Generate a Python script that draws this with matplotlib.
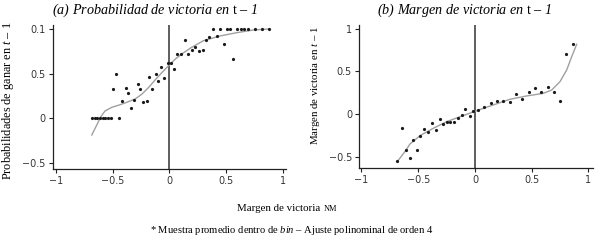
import numpy as np
import matplotlib
matplotlib.use("Agg")
import matplotlib.pyplot as plt

plt.rcParams['mathtext.fontset'] = 'custom'
plt.rcParams['mathtext.rm'] = 'Liberation Serif'
plt.rcParams['mathtext.it'] = 'Liberation Serif:italic'

SERIF = 'Liberation Serif'

# (a) probability of winning at t-1, bin averages
prob_x = [-0.685, -0.661, -0.637, -0.613, -0.589, -0.565, -0.541, -0.517, -0.441,
          -0.494, -0.470, -0.417, -0.385, -0.362, -0.338, -0.309, -0.279, -0.259,
          -0.229, -0.199, -0.177, -0.150, -0.120, -0.102, -0.071, -0.044, -0.009,
          0.015, 0.044, 0.071, 0.101, 0.139, 0.168, 0.198, 0.229, 0.259, 0.295,
          0.324, 0.353, 0.383, 0.418, 0.447, 0.480, 0.507, 0.538, 0.565, 0.600,
          0.630, 0.659, 0.692, 0.756, 0.816, 0.877]
prob_y = [0.0, 0.0, 0.0, 0.0, 0.0, 0.0, 0.0, 0.0, 0.0,
          0.328, 0.499, 0.197, 0.336, 0.283, 0.112, 0.205, 0.384, 0.328,
          0.183, 0.190, 0.466, 0.328, 0.496, 0.421, 0.574, 0.448, 0.616,
          0.623, 0.552, 0.717, 0.723, 0.873, 0.717, 0.761, 0.802, 0.754, 0.761,
          0.877, 0.910, 1.0, 0.925, 1.0, 0.835, 1.0, 1.0, 0.667, 1.0,
          1.0, 1.0, 1.0, 1.0, 1.0, 1.0]

# (a) polynomial fit
prob_fit_x = [-0.685, -0.641, -0.605, -0.568, -0.508, -0.435, -0.362, -0.303, -0.244,
              -0.185, -0.126, -0.067, -0.009, 0.050, 0.109, 0.183, 0.300, 0.447,
              0.595, 0.741, 0.877]
prob_fit_y = [-0.187, -0.075, 0.018, 0.082, 0.123, 0.152, 0.186, 0.216, 0.269,
              0.343, 0.429, 0.511, 0.586, 0.661, 0.720, 0.784, 0.869, 0.922,
              0.959, 0.989, 1.0]

# (b) margin of victory at t-1, bin averages
marg_x = [-0.690, -0.641, -0.608, -0.573, -0.542, -0.508, -0.480, -0.447, -0.411,
          -0.376, -0.346, -0.311, -0.279, -0.248, -0.216, -0.181, -0.150, -0.117,
          -0.085, -0.048, -0.015, 0.026, 0.081, 0.138, 0.194, 0.249, 0.307,
          0.361, 0.416, 0.473, 0.530, 0.586, 0.641, 0.699, 0.752, 0.806, 0.868]
marg_y = [-0.552, -0.168, -0.429, -0.521, -0.300, -0.423, -0.256, -0.179, -0.206,
          -0.109, -0.188, -0.055, -0.120, -0.090, -0.090, -0.098, -0.053, -0.012,
          0.056, -0.024, 0.032, 0.047, 0.079, 0.126, 0.153, 0.155, 0.143,
          0.231, 0.176, 0.262, 0.302, 0.262, 0.317, 0.262, 0.153, 0.702, 0.820]

# (b) polynomial fit
marg_fit_x = [-0.685, -0.611, -0.573, -0.537, -0.485, -0.367, -0.249, -0.132, 0.015,
              0.161, 0.308, 0.455, 0.602, 0.676, 0.749, 0.808, 0.852, 0.896]
marg_fit_y = [-0.561, -0.431, -0.353, -0.314, -0.255, -0.168, -0.090, -0.032, 0.039,
              0.106, 0.173, 0.212, 0.243, 0.282, 0.380, 0.517, 0.673, 0.819]

x_ticks = [-1, -0.5, 0, 0.5, 1]
x_ticklabels = ['\u22121', '\u22120.5', '0', '0.5', '1']
y_ticks = [-0.5, 0, 0.5, 1]
prob_yticklabels = ['\u22120.5', '0', '0.5', '0.1']
marg_yticklabels = ['\u22120.5', '0', '0.5', '1']

fig = plt.figure(figsize=(5.99, 2.43), dpi=100)
ax1 = fig.add_axes([0.088, 0.3045, 0.3895, 0.5926])
ax2 = fig.add_axes([0.5993, 0.3086, 0.3907, 0.5885])


def style(ax, ylabels):
    for s in ['top', 'right']:
        ax.spines[s].set_visible(False)
    for s in ['left', 'bottom']:
        ax.spines[s].set_color('#222222')
        ax.spines[s].set_linewidth(0.9)
    ax.set_xticks(x_ticks)
    ax.set_xticklabels(x_ticklabels)
    ax.set_yticks(y_ticks)
    ax.set_yticklabels(ylabels)
    ax.tick_params(length=3, width=0.8, color='#222222', labelsize=6.9,
                   labelcolor='#333333', pad=2)
    ax.axvline(0, color='#333333', lw=1.1, zorder=1)


ax1.plot(prob_fit_x, prob_fit_y, color='#a0a0a0', lw=1.0, zorder=2)
ax1.plot(prob_x, prob_y, 'o', color='#1a1a1a', ms=2.3, mec='none', zorder=3)
ax1.set_xlim(-1.03, 1.03)
ax1.set_ylim(-0.568, 1.045)
style(ax1, prob_yticklabels)

ax2.plot(marg_fit_x, marg_fit_y, color='#a0a0a0', lw=1.0, zorder=2)
ax2.plot(marg_x, marg_y, 'o', color='#1a1a1a', ms=2.3, mec='none', zorder=3)
ax2.set_xlim(-1.022, 1.04)
ax2.set_ylim(-0.635, 1.046)
style(ax2, marg_yticklabels)

fig.text(0.259, 0.959, '(a) Probabilidad de victoria en $\\mathrm{t}$ \u2013 1',
         ha='center', va='center', family=SERIF, style='italic', fontsize=10.2)
fig.text(0.776, 0.959, '(b) Margen de victoria en $\\mathrm{t}$ \u2013 1',
         ha='center', va='center', family=SERIF, style='italic', fontsize=10.2)

fig.text(0.0134, 0.584, 'Probabilidades de ganar en $t$ \u2013 1', rotation=90,
         ha='center', va='center', family=SERIF, fontsize=8.8)
fig.text(0.526, 0.65, 'Margen de victoria en $t$ \u2013 1', rotation=90,
         ha='center', va='center', family=SERIF, fontsize=7.8)

xl = fig.text(0.3957, 1 - 208 / 243, 'Margen de victoria', ha='left', va='center',
              family=SERIF, fontsize=7.8)
fig.canvas.draw()
bb = xl.get_window_extent(renderer=fig.canvas.get_renderer())
fig.text((bb.x1 + 3) / fig.bbox.width, 1 - 208.5 / 243, 'NM', ha='left', va='center',
         family=SERIF, fontsize=6.0)

fig.text(0.487, 1 - 230 / 243,
         '* Muestra promedio dentro de $bin$ \u2013 Ajuste polinominal de orden 4',
         ha='center', va='center', family=SERIF, fontsize=7.6)

plt.savefig('out.png', dpi=100)
plt.close()
